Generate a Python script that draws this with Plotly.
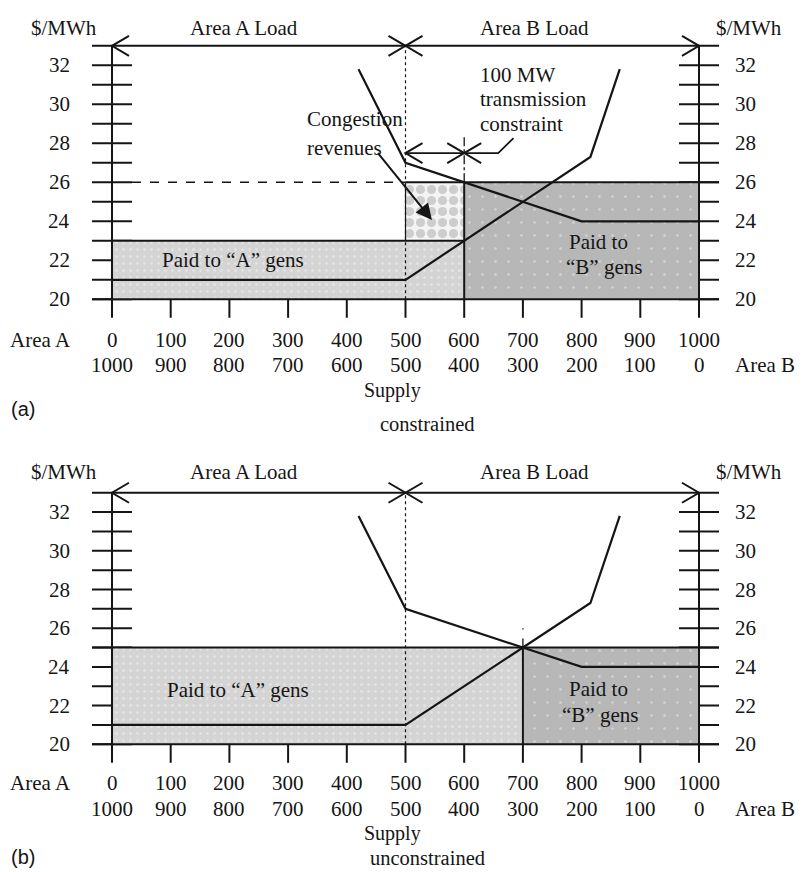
import plotly.graph_objects as go

# ---------------- data ----------------
quantity_ticks = [0, 100, 200, 300, 400, 500, 600, 700, 800, 900, 1000]
areaA_tick_labels = ["0", "100", "200", "300", "400", "500", "600", "700", "800", "900", "1000"]
areaB_tick_labels = ["1000", "900", "800", "700", "600", "500", "400", "300", "200", "100", "0"]
price_ticks = [20, 21, 22, 23, 24, 25, 26, 27, 28, 29, 30, 31, 32]
price_label_values = [20, 22, 24, 26, 28, 30, 32]
price_tick_labels = ["20", "22", "24", "26", "28", "30", "32"]

# area A generator offer curve (quantity from left), area B offer curve (quantity from right)
supplyA_q = [0, 500, 815, 865]
supplyA_p = [21, 21, 27.3, 31.8]
supplyB_q = [420, 500, 800, 1000]
supplyB_p = [31.8, 27, 24, 24]

load_split = 500          # Area A load / Area B load boundary
top_price = 33            # level of load arrows
# constrained case
con_qA = 600              # area A generation with 100 MW limit
con_priceA = 23
con_priceB = 26
limit_arrow_price = 27.5
# unconstrained case
unc_qA = 700
unc_price = 25

SERIF = "Liberation Serif, Times New Roman, serif"
SANS = "Liberation Sans, Arial, sans-serif"
INK = "#151515"

# ---------------- geometry ----------------
PAGE_W, PAGE_H = 806, 872
OFF = 8                     # default body margin of the html page
W, H = PAGE_W - 2 * OFF, PAGE_H - OFF
PX_X = 0.587                # pixels per MW
X0_PX = 112.0 - OFF         # x = 0 position in figure pixels
panels = {
    1: dict(ppu=19.5, y20=299.3, top=OFF, bot=436),     # page pixels
    2: dict(ppu=19.35, y20=744.3, top=436, bot=OFF + H),
}
xrange_ = [-X0_PX / PX_X, (W - X0_PX) / PX_X]

fig = go.Figure()


def ax(p):
    return ("x", "y") if p == 1 else ("x2", "y2")


def line(p, xs, ys, width=2.0, dash="solid", color=INK):
    xa, ya = ax(p)
    fig.add_trace(go.Scatter(x=xs, y=ys, mode="lines", xaxis=xa, yaxis=ya,
                             line=dict(color=color, width=width, dash=dash),
                             hoverinfo="skip", showlegend=False))


def rect(p, x0, x1, y0, y1, pattern):
    xa, ya = ax(p)
    fig.add_trace(go.Scatter(x=[x0, x1, x1, x0, x0], y=[y0, y0, y1, y1, y0],
                             mode="lines", fill="toself", xaxis=xa, yaxis=ya,
                             line=dict(width=0, color="rgba(0,0,0,0)"),
                             fillcolor=pattern["bgcolor"], fillpattern=pattern,
                             hoverinfo="skip", showlegend=False))


annotations = []


def text(p, x, y, s, size=21, xanchor="center", family=SERIF, align="center"):
    xa, ya = ax(p)
    annotations.append(dict(x=x, y=y, xref=xa, yref=ya, text=s, showarrow=False,
                            xanchor=xanchor, yanchor="middle", align=align,
                            font=dict(family=family, size=size, color=INK)))


def head(p, xt, y, direction):
    # open arrowhead with tip at xt; direction -1 points left, +1 points right
    dx = 17 / PX_X
    dy = 10 / panels[p]["ppu"]
    line(p, [xt - direction * dx, xt, xt - direction * dx], [y + dy, y, y - dy], width=2)


tick_half = 20 / PX_X

light_pat = dict(shape=".", bgcolor="#d4d4d4", fgcolor="#f7f7f7", size=7, solidity=0.1)
dark_pat = dict(shape=".", bgcolor="#b7b7b7", fgcolor="#f2f2f2", size=13, solidity=0.03)
cong_pat = dict(shape=".", bgcolor="#f4f4f4", fgcolor="#a6a6a6", size=11, solidity=0.55)

for p in (1, 2):
    # horizontal price ticks (under the shading)
    for v in price_ticks:
        line(p, [-tick_half, tick_half], [v, v], width=2)
        line(p, [1000 - tick_half, 1000 + tick_half], [v, v], width=2)

    # shaded payment areas
    if p == 1:
        rect(p, 0, con_qA, 20, con_priceA, light_pat)
        rect(p, load_split, con_qA, con_priceA, con_priceB, cong_pat)
        rect(p, con_qA, 1000, 20, con_priceB, dark_pat)
    else:
        rect(p, 0, unc_qA, 20, unc_price, light_pat)
        rect(p, unc_qA, 1000, 20, unc_price, dark_pat)

    # axes
    ybot = 20 - 18.5 / panels[p]["ppu"]
    line(p, [0, 0], [ybot, top_price], width=2)
    line(p, [1000, 1000], [ybot, top_price], width=2)
    line(p, [-tick_half, 1000 + tick_half], [20, 20], width=2)
    line(p, [-tick_half, 1000 + tick_half], [top_price, top_price], width=2)
    for q in quantity_ticks[1:-1]:
        line(p, [q, q], [ybot, 20], width=2)

    # load split dotted line
    line(p, [load_split, load_split], [20, top_price], width=1.2, dash="dot")

    # load arrows
    head(p, 0, top_price, -1)
    head(p, 1000, top_price, 1)
    head(p, load_split, top_price, 1)
    head(p, load_split, top_price, -1)

    # price boundary lines
    if p == 1:
        line(p, [0, con_qA], [con_priceA, con_priceA], width=2)
        line(p, [tick_half, load_split], [con_priceB, con_priceB], width=1.5, dash="dash")
        line(p, [load_split, 1000 + tick_half], [con_priceB, con_priceB], width=2)
        line(p, [load_split, load_split], [con_priceA, con_priceB], width=1.2)
        line(p, [con_qA, con_qA], [20, con_priceB], width=2)
        line(p, [con_qA, con_qA], [con_priceB, 28.4], width=1.3, dash="dashdot")
        # 100 MW transmission constraint dimension
        line(p, [load_split, 658, 684], [limit_arrow_price, limit_arrow_price, 28.27], width=1.8)
        head(p, load_split, limit_arrow_price, -1)
        head(p, con_qA, limit_arrow_price, 1)
        head(p, con_qA, limit_arrow_price, -1)
    else:
        line(p, [-tick_half, 1000 + tick_half], [unc_price, unc_price], width=2)
        line(p, [unc_qA, unc_qA], [20, unc_price], width=2)
        line(p, [unc_qA, unc_qA], [unc_price, 26], width=1.3, dash="dash")

    # offer curves
    line(p, supplyA_q, supplyA_p, width=2.2)
    line(p, supplyB_q, supplyB_p, width=2.2)

    # text labels (rows given in page pixels)
    ppu = panels[p]["ppu"]
    y20 = panels[p]["y20"]

    def row(px):
        return 20 - (px - y20) / ppu

    if p == 1:
        r_head, r1, r2, r_sup, r_cap, r_tag = row(28), row(340), row(365), row(390), row(424), row(409)
    else:
        r_head, r1, r2, r_sup, r_cap, r_tag = row(472), row(783), row(809), row(833), row(858), row(857)
    text(p, -82, r_head, "$/MWh")
    text(p, 1085, r_head, "$/MWh")
    text(p, 225, r_head, "Area A Load")
    text(p, 720, r_head, "Area B Load")
    for v, s in zip(price_label_values, price_tick_labels):
        text(p, -68, v, s, xanchor="right")
        text(p, 1058, v, s, xanchor="left")
    for q, sa, sb in zip(quantity_ticks, areaA_tick_labels, areaB_tick_labels):
        text(p, q, r1, sa)
        text(p, q, r2, sb)
    text(p, -66, r1, "Area A", xanchor="right")
    text(p, xrange_[1] - 1, r2, "Area B", xanchor="right")
    text(p, 477, r_sup, "Supply", size=20)
    text(p, 538, r_cap, "constrained" if p == 1 else "unconstrained", size=20.5)
    text(p, xrange_[0] + 1, r_tag, "(a)" if p == 1 else "(b)", family=SANS, size=20, xanchor="left")

    if p == 1:
        text(p, 206, 22.0, "Paid to “A” gens")
        text(p, 828, 22.94, "Paid to")
        text(p, 838, 21.64, "“B” gens")
        text(p, 329, 29.24, "Congestion", xanchor="left")
        text(p, 329, 27.76, "revenues", xanchor="left")
        text(p, 623, 31.5, "100 MW", xanchor="left")
        text(p, 623, 30.25, "transmission", xanchor="left")
        text(p, 623, 29.0, "constraint", xanchor="left")
        annotations.append(dict(x=545, y=24.07, xref="x", yref="y", ax=451, ay=27.57,
                                axref="x", ayref="y", text="", showarrow=True,
                                arrowhead=2, arrowsize=1.6, arrowwidth=2, arrowcolor=INK,
                                standoff=0, startstandoff=0))
    else:
        text(p, 214, 22.8, "Paid to “A” gens")
        text(p, 828, 22.86, "Paid to")
        text(p, 831, 21.51, "“B” gens")


def yaxis_for(g):
    top_f, bot_f = g["top"] - OFF, g["bot"] - OFF
    y20_f = g["y20"] - OFF
    return dict(domain=[1 - bot_f / H, 1 - top_f / H],
                range=[20 - (bot_f - y20_f) / g["ppu"], 20 + (y20_f - top_f) / g["ppu"]],
                visible=False, fixedrange=True)


ya1 = yaxis_for(panels[1]); ya1["anchor"] = "x"
ya2 = yaxis_for(panels[2]); ya2["anchor"] = "x2"

fig.update_layout(
    width=W, height=H, autosize=False,
    margin=dict(l=0, r=0, t=0, b=0),
    paper_bgcolor="white", plot_bgcolor="white",
    showlegend=False,
    annotations=annotations,
    xaxis=dict(domain=[0, 1], range=xrange_, visible=False, anchor="y", fixedrange=True),
    yaxis=ya1,
    xaxis2=dict(domain=[0, 1], range=xrange_, visible=False, anchor="y2", fixedrange=True),
    yaxis2=ya2,
)

fig.write_html("out.html")
